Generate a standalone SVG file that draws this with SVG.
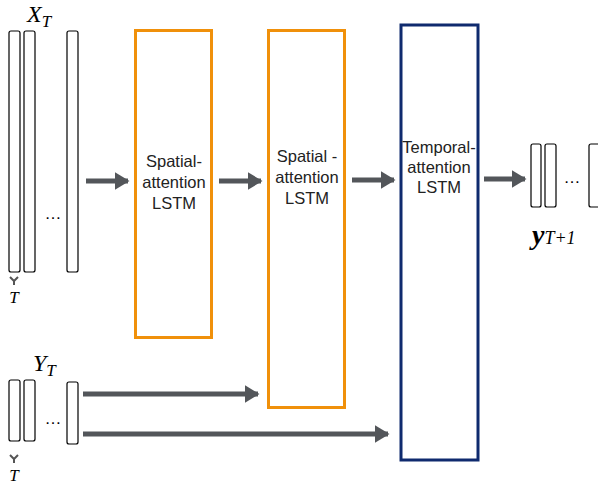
<svg xmlns="http://www.w3.org/2000/svg" width="598" height="486" viewBox="0 0 598 486">
<defs>
<marker id="ah" viewBox="0 0 10 12" refX="9" refY="6" markerWidth="3" markerHeight="3.6" orient="auto" markerUnits="strokeWidth">
<path d="M0,0 L10,6 L0,12 Z" fill="#53565a"/>
</marker>
<style>
.col{fill:#fff;stroke:#000;stroke-width:1.2}
.lbl{font-family:"Liberation Sans",Arial,sans-serif;font-size:16.5px;fill:#222;text-anchor:middle}
.math{font-family:"Liberation Serif","Times New Roman",serif;font-style:italic;fill:#000}
.arr{stroke:#53565a;stroke-width:5;fill:none;marker-end:url(#ah)}
.orange{fill:#fff;stroke:#f0900a;stroke-width:3}
.navy{fill:#fff;stroke:#0f2a6e;stroke-width:3}
.dots{font-family:"Liberation Sans",Arial,sans-serif;font-size:17px;fill:#000;text-anchor:middle}
</style>
</defs>
<g id="xT">
<text class="math" x="27" y="22" font-size="24">X<tspan font-size="17" dy="5">T</tspan></text>
<rect class="col" x="9" y="31" width="11" height="241" rx="2"/>
<rect class="col" x="24" y="31" width="11" height="241" rx="2"/>
<rect class="col" x="67" y="31" width="11" height="241" rx="2"/>
<text class="dots" x="53" y="219">…</text>
<path d="M10,277 L14,281 L18,277 M14,281 L14,285" stroke="#555" stroke-width="2" fill="none"/>
<text class="math" x="14" y="303" font-size="17" text-anchor="middle">T</text>
</g>
<g id="yT">
<text class="math" x="33" y="371" font-size="24">Y<tspan font-size="17" dy="5">T</tspan></text>
<rect class="col" x="9" y="380" width="11" height="61" rx="2"/>
<rect class="col" x="24" y="380" width="11" height="61" rx="2"/>
<rect class="col" x="67" y="382" width="11" height="62" rx="2"/>
<text class="dots" x="53" y="424">…</text>
<path d="M10,455 L14,459 L18,455 M14,459 L14,463" stroke="#555" stroke-width="2" fill="none"/>
<text class="math" x="14" y="481" font-size="17" text-anchor="middle">T</text>
</g>
<g id="spatial1">
<rect class="orange" x="135.5" y="30.5" width="76" height="307"/>
<text class="lbl" x="174" y="167">Spatial-</text>
<text class="lbl" x="174" y="188">attention</text>
<text class="lbl" x="174" y="209">LSTM</text>
</g>
<g id="spatial2">
<rect class="orange" x="268.5" y="30.5" width="76" height="377"/>
<text class="lbl" x="307" y="162">Spatial -</text>
<text class="lbl" x="307" y="183">attention</text>
<text class="lbl" x="307" y="204">LSTM</text>
</g>
<g id="temporal">
<rect class="navy" x="401" y="25" width="77" height="435"/>
<text class="lbl" x="439" y="153" font-size="15.7">Temporal-</text>
<text class="lbl" x="439" y="173" font-size="15.7">attention</text>
<text class="lbl" x="439" y="193" font-size="15.7">LSTM</text>
</g>
<g id="output">
<rect class="col" x="531" y="144" width="10" height="63" rx="2"/>
<rect class="col" x="545" y="144" width="11" height="63" rx="2"/>
<rect class="col" x="589" y="144" width="14" height="63" rx="2"/>
<text class="dots" x="572" y="183">…</text>
<text class="math" x="532" y="244" font-size="28" font-weight="bold">y<tspan font-size="18" font-weight="normal">T+1</tspan></text>
</g>
<g id="connectors">
<line class="arr" x1="86" y1="181" x2="128" y2="181"/>
<line class="arr" x1="219" y1="181" x2="261" y2="181"/>
<line class="arr" x1="352" y1="180" x2="394" y2="180"/>
<line class="arr" x1="484" y1="179" x2="525" y2="179"/>
<line class="arr" x1="83" y1="394" x2="258" y2="394"/>
<line class="arr" x1="83" y1="434" x2="388" y2="434"/>
</g>
</svg>
